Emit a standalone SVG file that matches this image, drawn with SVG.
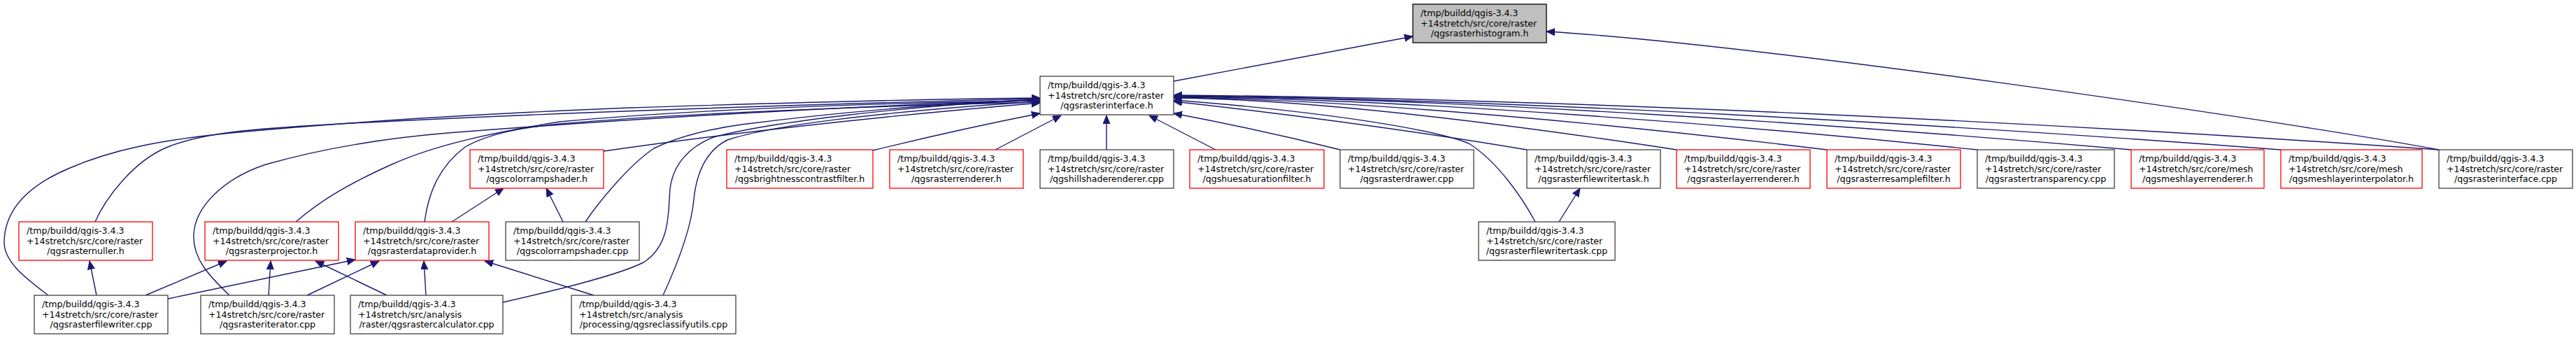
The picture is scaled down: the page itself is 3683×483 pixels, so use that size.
<svg xmlns="http://www.w3.org/2000/svg" width="3683" height="483" viewBox="0 0 3683 483">
<style>
.n rect{fill:#fff;stroke:#404040;stroke-width:1.3}
.n.r rect{stroke:#ff0000}
.n.g rect{fill:#bfbfbf;stroke:#000}
text{font-family:"DejaVu Sans",sans-serif;font-size:12.6px;fill:#000}
.c{text-anchor:middle}
.e path{fill:none;stroke:#191970;stroke-width:1.4;marker-end:url(#a)}
</style>
<defs>
<marker id="a" markerUnits="userSpaceOnUse" markerWidth="14" markerHeight="12" refX="12" refY="5" orient="auto">
<path d="M0,0 L12,5 L0,10 Z" fill="#191970" stroke="#191970" stroke-width="1"/>
</marker>
</defs>
<rect width="3683" height="483" fill="#fff"/>
<g id="edges" class="e">
<path d="M1678,116 L2020,52"/>
<path d="M3487,214 C3250,170 2500,62 2211,45"/>
<path d="M69,422 C40,400 5,375 6,345 C7,300 40,265 100,240 C160,214 230,200 330,190 C500,174 700,162 900,154 C1150,146 1350,141 1487,140"/>
<path d="M136,317 C150,285 190,230 240,210 C290,190 360,184 470,178 C700,165 1100,150 1487,141"/>
<path d="M328,422 C300,395 275,370 277,335 C279,295 320,255 380,235 C440,218 520,200 640,190 C900,170 1200,152 1487,143"/>
<path d="M423,317 C460,285 500,262 560,235 C620,208 700,190 800,174 C1000,155 1300,146 1487,144"/>
<path d="M607,317 C612,280 625,240 665,210 C700,190 750,182 800,177 C1000,160 1300,150 1487,146"/>
<path d="M863,216 Q1150,175 1487,147"/>
<path d="M837,317 C855,290 900,235 935,212 C970,195 1010,185 1060,178 C1200,160 1350,148 1487,142"/>
<path d="M719,432 C780,418 880,395 920,375 C960,350 955,300 958,270 C962,235 985,210 1020,196 C1100,175 1300,150 1487,143"/>
<path d="M948,422 C965,385 988,330 992,285 C996,245 1010,215 1040,200 C1100,180 1250,160 1487,145"/>
<path d="M1248,215 Q1370,185 1487,162"/>
<path d="M1423,214 L1517,165"/>
<path d="M1582,214 L1582,165"/>
<path d="M1738,214 L1643,165"/>
<path d="M1916,214 Q1800,185 1678,162"/>
<path d="M2183,214 Q1950,175 1678,145"/>
<path d="M2195,317 C2175,280 2140,230 2100,205 C2050,185 1900,160 1678,143"/>
<path d="M2397,214 C2181,181 1894,142 1678,140"/>
<path d="M2612,214 C2332,180 1958,143 1678,139"/>
<path d="M2827,214 C2482,178 2023,142 1678,138"/>
<path d="M3047,214 C2636,178 2089,141 1678,137"/>
<path d="M3261,214 C2786,178 2153,141 1678,137"/>
<path d="M3487,214 C2944,176 2220,140 1678,136"/>
<path d="M805,317 L781,269"/>
<path d="M646,317 L720,269"/>
<path d="M138,422 L128,373"/>
<path d="M208,422 L324,373"/>
<path d="M240,427 L508,371"/>
<path d="M384,422 L387,373"/>
<path d="M439,422 L542,373"/>
<path d="M553,422 L451,373"/>
<path d="M609,422 L606,373"/>
<path d="M849,422 L693,373"/>
<path d="M2229,317 L2259,269"/>
</g>
<g id="n0" class="n g"><rect x="2020" y="6" width="191" height="55"/><text x="2031" y="23">/tmp/buildd/qgis-3.4.3</text><text x="2031" y="37.5">+14stretch/src/core/raster</text><text class="c" x="2115.5" y="52">/qgsrasterhistogram.h</text></g>
<g id="n1" class="n"><rect x="1487" y="109" width="191" height="55"/><text x="1498" y="126">/tmp/buildd/qgis-3.4.3</text><text x="1498" y="140.5">+14stretch/src/core/raster</text><text class="c" x="1582.5" y="155">/qgsrasterinterface.h</text></g>
<g id="n2" class="n r"><rect x="672" y="214" width="191" height="55"/><text x="683" y="231">/tmp/buildd/qgis-3.4.3</text><text x="683" y="245.5">+14stretch/src/core/raster</text><text class="c" x="767.5" y="260">/qgscolorrampshader.h</text></g>
<g id="n3" class="n r"><rect x="1039" y="214" width="209" height="55"/><text x="1050" y="231">/tmp/buildd/qgis-3.4.3</text><text x="1050" y="245.5">+14stretch/src/core/raster</text><text class="c" x="1143.5" y="260">/qgsbrightnesscontrastfilter.h</text></g>
<g id="n4" class="n r"><rect x="1272" y="214" width="191" height="55"/><text x="1283" y="231">/tmp/buildd/qgis-3.4.3</text><text x="1283" y="245.5">+14stretch/src/core/raster</text><text class="c" x="1367.5" y="260">/qgsrasterrenderer.h</text></g>
<g id="n5" class="n"><rect x="1487" y="214" width="191" height="55"/><text x="1498" y="231">/tmp/buildd/qgis-3.4.3</text><text x="1498" y="245.5">+14stretch/src/core/raster</text><text class="c" x="1582.5" y="260">/qgshillshaderenderer.cpp</text></g>
<g id="n6" class="n r"><rect x="1701" y="214" width="192" height="55"/><text x="1712" y="231">/tmp/buildd/qgis-3.4.3</text><text x="1712" y="245.5">+14stretch/src/core/raster</text><text class="c" x="1797" y="260">/qgshuesaturationfilter.h</text></g>
<g id="n7" class="n"><rect x="1916" y="214" width="191" height="55"/><text x="1927" y="231">/tmp/buildd/qgis-3.4.3</text><text x="1927" y="245.5">+14stretch/src/core/raster</text><text class="c" x="2011.5" y="260">/qgsrasterdrawer.cpp</text></g>
<g id="n8" class="n"><rect x="2183" y="214" width="191" height="55"/><text x="2194" y="231">/tmp/buildd/qgis-3.4.3</text><text x="2194" y="245.5">+14stretch/src/core/raster</text><text class="c" x="2278.5" y="260">/qgsrasterfilewritertask.h</text></g>
<g id="n9" class="n r"><rect x="2397" y="214" width="191" height="55"/><text x="2408" y="231">/tmp/buildd/qgis-3.4.3</text><text x="2408" y="245.5">+14stretch/src/core/raster</text><text class="c" x="2492.5" y="260">/qgsrasterlayerrenderer.h</text></g>
<g id="n10" class="n r"><rect x="2612" y="214" width="191" height="55"/><text x="2623" y="231">/tmp/buildd/qgis-3.4.3</text><text x="2623" y="245.5">+14stretch/src/core/raster</text><text class="c" x="2707.5" y="260">/qgsrasterresamplefilter.h</text></g>
<g id="n11" class="n"><rect x="2827" y="214" width="196" height="55"/><text x="2838" y="231">/tmp/buildd/qgis-3.4.3</text><text x="2838" y="245.5">+14stretch/src/core/raster</text><text class="c" x="2925" y="260">/qgsrastertransparency.cpp</text></g>
<g id="n12" class="n r"><rect x="3047" y="214" width="190" height="55"/><text x="3058" y="231">/tmp/buildd/qgis-3.4.3</text><text x="3058" y="245.5">+14stretch/src/core/mesh</text><text class="c" x="3142" y="260">/qgsmeshlayerrenderer.h</text></g>
<g id="n13" class="n r"><rect x="3261" y="214" width="202" height="55"/><text x="3272" y="231">/tmp/buildd/qgis-3.4.3</text><text x="3272" y="245.5">+14stretch/src/core/mesh</text><text class="c" x="3362" y="260">/qgsmeshlayerinterpolator.h</text></g>
<g id="n14" class="n"><rect x="3487" y="214" width="191" height="55"/><text x="3498" y="231">/tmp/buildd/qgis-3.4.3</text><text x="3498" y="245.5">+14stretch/src/core/raster</text><text class="c" x="3582.5" y="260">/qgsrasterinterface.cpp</text></g>
<g id="n15" class="n r"><rect x="27" y="317" width="191" height="55"/><text x="38" y="334">/tmp/buildd/qgis-3.4.3</text><text x="38" y="348.5">+14stretch/src/core/raster</text><text class="c" x="122.5" y="363">/qgsrasternuller.h</text></g>
<g id="n16" class="n r"><rect x="293" y="317" width="191" height="55"/><text x="304" y="334">/tmp/buildd/qgis-3.4.3</text><text x="304" y="348.5">+14stretch/src/core/raster</text><text class="c" x="388.5" y="363">/qgsrasterprojector.h</text></g>
<g id="n17" class="n r"><rect x="508" y="317" width="191" height="55"/><text x="519" y="334">/tmp/buildd/qgis-3.4.3</text><text x="519" y="348.5">+14stretch/src/core/raster</text><text class="c" x="603.5" y="363">/qgsrasterdataprovider.h</text></g>
<g id="n18" class="n"><rect x="723" y="317" width="191" height="55"/><text x="734" y="334">/tmp/buildd/qgis-3.4.3</text><text x="734" y="348.5">+14stretch/src/core/raster</text><text class="c" x="818.5" y="363">/qgscolorrampshader.cpp</text></g>
<g id="n19" class="n"><rect x="2114" y="317" width="195" height="55"/><text x="2125" y="334">/tmp/buildd/qgis-3.4.3</text><text x="2125" y="348.5">+14stretch/src/core/raster</text><text class="c" x="2211.5" y="363">/qgsrasterfilewritertask.cpp</text></g>
<g id="n20" class="n"><rect x="49" y="422" width="191" height="55"/><text x="60" y="439">/tmp/buildd/qgis-3.4.3</text><text x="60" y="453.5">+14stretch/src/core/raster</text><text class="c" x="144.5" y="468">/qgsrasterfilewriter.cpp</text></g>
<g id="n21" class="n"><rect x="287" y="422" width="191" height="55"/><text x="298" y="439">/tmp/buildd/qgis-3.4.3</text><text x="298" y="453.5">+14stretch/src/core/raster</text><text class="c" x="382.5" y="468">/qgsrasteriterator.cpp</text></g>
<g id="n22" class="n"><rect x="501" y="422" width="218" height="55"/><text x="512" y="439">/tmp/buildd/qgis-3.4.3</text><text x="512" y="453.5">+14stretch/src/analysis</text><text class="c" x="610" y="468">/raster/qgsrastercalculator.cpp</text></g>
<g id="n23" class="n"><rect x="817" y="422" width="235" height="55"/><text x="828" y="439">/tmp/buildd/qgis-3.4.3</text><text x="828" y="453.5">+14stretch/src/analysis</text><text class="c" x="934.5" y="468">/processing/qgsreclassifyutils.cpp</text></g>
</svg>
